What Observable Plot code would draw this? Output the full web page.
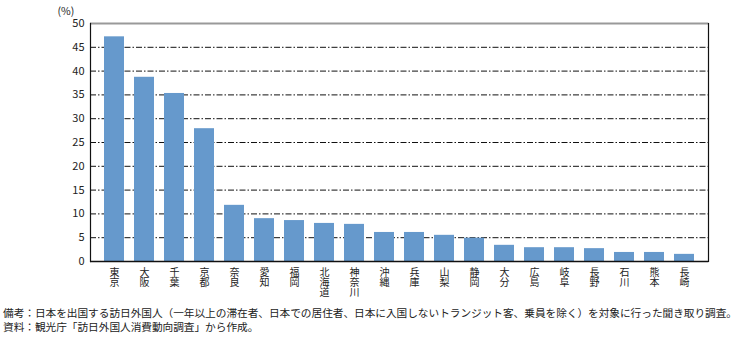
<!DOCTYPE html>
<html><head><meta charset="utf-8">
<script src="https://cdn.jsdelivr.net/npm/d3@7"></script>
<script src="https://cdn.jsdelivr.net/npm/@observablehq/plot@0.6"></script>
<style>
body{margin:0;background:#fff;font-family:"Noto Sans CJK JP",sans-serif;}
#chart svg{display:block}
.note{font-size:10.7px;color:#222;line-height:14px;padding-left:3px;white-space:nowrap;letter-spacing:-0.05px}
</style></head>
<body>
<div id="chart"></div>
<div class="note" style="margin-top:6px">備考：日本を出国する訪日外国人（一年以上の滞在者、日本での居住者、日本に入国しないトランジット客、乗員を除く）を対象に行った聞き取り調査。</div>
<div class="note">資料：観光庁「訪日外国人消費動向調査」から作成。</div>
<script>
const prefectures = ["東京","大阪","千葉","京都","奈良","愛知","福岡","北海道","神奈川","沖縄","兵庫","山梨","静岡","大分","広島","岐阜","長野","石川","熊本","長崎"];
const values = [47.2,38.7,35.3,27.9,11.8,9.0,8.6,8.0,7.8,6.1,6.1,5.5,4.9,3.4,2.9,2.9,2.7,1.9,1.9,1.5];
const yTicks = [0,5,10,15,20,25,30,35,40,45,50];
const gridTicks = [5,10,15,20,25,30,35,40,45];
const unitLabel = "(%)";

const data = prefectures.map((p,i)=>({p, v: values[i]}));
const font = "Noto Sans CJK JP";

const verticalText = (index, scales, values, dims, context, next) => {
  const g = next(index, scales, values, dims, context);
  d3.select(g).selectAll("text")
    .attr("dy", null)
    .style("writing-mode", "vertical-rl")
    .style("text-orientation", "upright")
    .style("dominant-baseline", "central");
  return g;
};

const chart = Plot.plot({
  width: 749, height: 300,
  marginLeft: 90, marginRight: 41, marginTop: 23, marginBottom: 39,
  style: {fontFamily: font, fontSize: "11px", color: "#222", background: "#fff"},
  x: {domain: prefectures, padding: 0.32, label: null, axis: null},
  y: {domain: [0,50], label: null},
  marks: [
    Plot.ruleY(gridTicks, {stroke: "#111", strokeWidth: 1, strokeDasharray: "6,2,1.5,2"}),
    Plot.ruleY([50], {stroke: "#999", strokeWidth: 2}),
    Plot.barY(data, {x: "p", y: "v", fill: "#6699cc"}),
    Plot.axisY({ticks: yTicks, tickSize: 0, tickPadding: 6, fontSize: 11, label: null}),
    Plot.text(prefectures, {x: d => d, frameAnchor: "bottom", dy: 6, textAnchor: "start",
      fontSize: 10, fill: "#222", render: verticalText}),
    Plot.frame({anchor: "left", stroke: "#111", strokeWidth: 1.2}),
    Plot.frame({anchor: "right", stroke: "#111", strokeWidth: 1.2}),
    Plot.ruleY([0], {stroke: "#111", strokeWidth: 1.5}),
    Plot.text([unitLabel], {frameAnchor: "top-left", dx: -33, dy: -16, textAnchor: "start", fontSize: 10.5})
  ]
});
document.getElementById("chart").appendChild(chart);
</script>
</body></html>
